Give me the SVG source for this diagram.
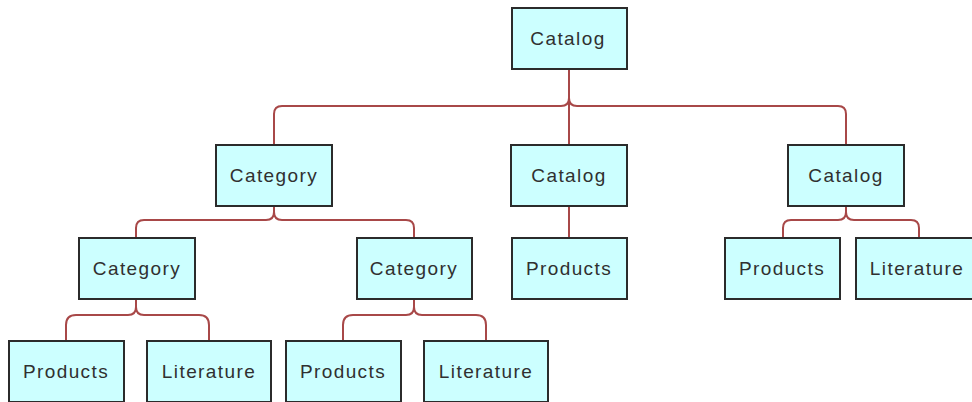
<svg xmlns="http://www.w3.org/2000/svg" width="972" height="402" viewBox="0 0 972 402">
<style>
.box{fill:#ccffff;stroke:#2b2b2b;stroke-width:2}
.lbl{font-family:"Liberation Sans",Arial,sans-serif;font-size:19px;fill:#303030;text-anchor:middle;letter-spacing:1.4px}
.conn{fill:none;stroke:#a84848;stroke-width:2}
</style>
<rect width="972" height="402" fill="#ffffff"/>
<g id="connectors">
<path class="conn" d="M569,69 V98 Q569,106 561,106 H282 Q274,106 274,114 V145"/>
<path class="conn" d="M569,69 V145"/>
<path class="conn" d="M569,69 V98 Q569,106 577,106 H838 Q846,106 846,114 V145"/>
<path class="conn" d="M274,206 V212 Q274,220 266,220 H144 Q136,220 136,228 V238"/>
<path class="conn" d="M274,206 V212 Q274,220 282,220 H406 Q414,220 414,228 V238"/>
<path class="conn" d="M569,206 V238"/>
<path class="conn" d="M846,206 V212 Q846,220 838,220 H791 Q783,220 783,228 V238"/>
<path class="conn" d="M846,206 V212 Q846,220 854,220 H911 Q919,220 919,228 V238"/>
<path class="conn" d="M136,299 V307 Q136,315 128,315 H76 Q66,315 66,325 V341"/>
<path class="conn" d="M136,299 V307 Q136,315 144,315 H199 Q209,315 209,325 V341"/>
<path class="conn" d="M414,299 V307 Q414,315 406,315 H353 Q343,315 343,325 V341"/>
<path class="conn" d="M414,299 V307 Q414,315 422,315 H476 Q486,315 486,325 V341"/>
</g>
<g id="catalog-root"><rect class="box" x="512" y="8" width="115" height="61"/><text class="lbl" x="568" y="45">Catalog</text></g>
<g id="category-1"><rect class="box" x="216" y="145" width="116" height="61"/><text class="lbl" x="274" y="182">Category</text></g>
<g id="catalog-2"><rect class="box" x="511" y="145" width="116" height="61"/><text class="lbl" x="569" y="182">Catalog</text></g>
<g id="catalog-3"><rect class="box" x="788" y="145" width="116" height="61"/><text class="lbl" x="846" y="182">Catalog</text></g>
<g id="category-1-1"><rect class="box" x="79" y="238" width="116" height="61"/><text class="lbl" x="137" y="275">Category</text></g>
<g id="category-1-2"><rect class="box" x="357" y="238" width="115" height="61"/><text class="lbl" x="414" y="275">Category</text></g>
<g id="products-2"><rect class="box" x="512" y="238" width="115" height="61"/><text class="lbl" x="569" y="275">Products</text></g>
<g id="products-3"><rect class="box" x="725" y="238" width="115" height="61"/><text class="lbl" x="782" y="275">Products</text></g>
<g id="literature-3"><rect class="box" x="856" y="238" width="124" height="61"/><text class="lbl" x="917" y="275">Literature</text></g>
<g id="products-1-1"><rect class="box" x="9" y="341" width="115" height="61"/><text class="lbl" x="66" y="378">Products</text></g>
<g id="literature-1-1"><rect class="box" x="147" y="341" width="124" height="61"/><text class="lbl" x="209" y="378">Literature</text></g>
<g id="products-1-2"><rect class="box" x="286" y="341" width="115" height="61"/><text class="lbl" x="343" y="378">Products</text></g>
<g id="literature-1-2"><rect class="box" x="424" y="341" width="124" height="61"/><text class="lbl" x="486" y="378">Literature</text></g>
</svg>
